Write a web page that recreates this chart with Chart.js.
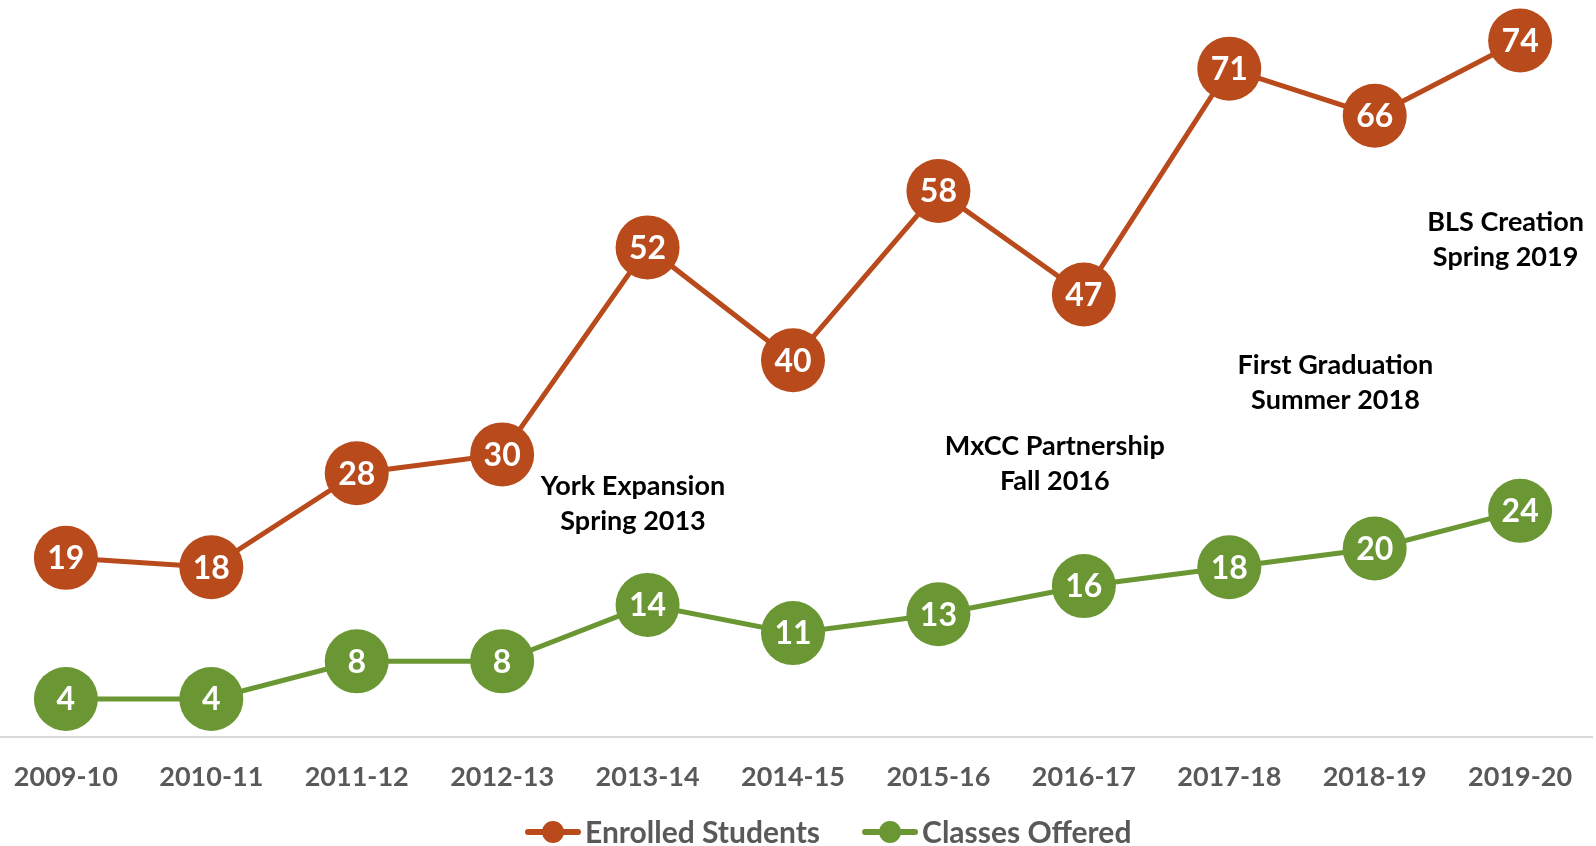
<!DOCTYPE html>
<html>
<head>
<meta charset="utf-8">
<script src="https://cdn.jsdelivr.net/npm/chart.js"></script>
<style>
  html, body { margin: 0; padding: 0; background: #fff; overflow: hidden; }
  #wrap { position: absolute; left: -10px; top: 0; width: 1606px; height: 846px; }
</style>
</head>
<body>
<div id="wrap"><canvas id="enrollChart"></canvas></div>
<script>
// Datos del grafico
var years = ['2009-10', '2010-11', '2011-12', '2012-13', '2013-14', '2014-15', '2015-16', '2016-17', '2017-18', '2018-19', '2019-20'];
var enrolledStudents = [19, 18, 28, 30, 52, 40, 58, 47, 71, 66, 74];
var classesOffered = [4, 4, 8, 8, 14, 11, 13, 16, 18, 20, 24];

// Hitos (texto, posicion en el eje x y valor en el eje y)
var milestoneText = [
  ['York Expansion', 'Spring 2013'],
  ['MxCC Partnership', 'Fall 2016'],
  ['First Graduation', 'Summer 2018'],
  ['BLS Creation', 'Spring 2019']
];
var milestoneX = [3.9, 6.8, 8.73, 9.9];
var milestoneY = [24.8, 29, 37.7, 52.9];

var orange = '#b84a1b';
var green = '#6a9733';
var fontName = 'Lato, "Noto Sans", sans-serif';

// Numeros blancos dentro de cada punto
var pointLabels = {
  id: 'pointLabels',
  afterDatasetsDraw: function(chart) {
    var ctx = chart.ctx;
    ctx.save();
    ctx.font = 'bold 32px ' + fontName;
    ctx.fillStyle = '#ffffff';
    ctx.textAlign = 'center';
    ctx.textBaseline = 'middle';
    chart.data.datasets.forEach(function(ds, i) {
      chart.getDatasetMeta(i).data.forEach(function(pt, j) {
        ctx.fillText(ds.data[j], pt.x, pt.y + 1);
      });
    });
    ctx.restore();
  }
};

// Textos de los hitos
var milestones = {
  id: 'milestones',
  afterDraw: function(chart) {
    var ctx = chart.ctx;
    var xs = chart.scales.x;
    var ys = chart.scales.y;
    ctx.save();
    ctx.font = 'bold 27px ' + fontName;
    ctx.fillStyle = '#000000';
    ctx.textAlign = 'center';
    ctx.textBaseline = 'middle';
    milestoneText.forEach(function(lines, i) {
      var px = xs.getPixelForValue(milestoneX[i]);
      var py = ys.getPixelForValue(milestoneY[i]);
      ctx.fillText(lines[0], px, py - 17);
      ctx.fillText(lines[1], px, py + 18);
    });
    ctx.restore();
  }
};

// Leyenda abajo con linea y circulo
var bottomLegend = {
  id: 'bottomLegend',
  afterDraw: function(chart) {
    var ctx = chart.ctx;
    var x = 535;
    var y = 832;
    ctx.save();
    ctx.font = 'bold 30px ' + fontName;
    ctx.textBaseline = 'middle';
    ctx.textAlign = 'left';
    chart.data.datasets.forEach(function(ds) {
      ctx.strokeStyle = ds.borderColor;
      ctx.lineWidth = 6;
      ctx.lineCap = 'round';
      ctx.beginPath();
      ctx.moveTo(x + 3, y);
      ctx.lineTo(x + 53, y);
      ctx.stroke();
      ctx.fillStyle = ds.borderColor;
      ctx.beginPath();
      ctx.arc(x + 28, y, 11, 0, Math.PI * 2);
      ctx.fill();
      ctx.fillStyle = '#595959';
      ctx.fillText(ds.label, x + 60, y + 1);
      x += 60 + ctx.measureText(ds.label).width + 42;
    });
    ctx.restore();
  }
};

function drawChart() {
  var ctx = document.getElementById('enrollChart').getContext('2d');
  var myChart = new Chart(ctx, {
    type: 'line',
    data: {
      labels: years,
      datasets: [{
        label: 'Enrolled Students',
        data: enrolledStudents,
        borderColor: orange,
        backgroundColor: orange,
        pointBackgroundColor: orange,
        borderWidth: 5,
        pointRadius: 32,
        pointBorderWidth: 0,
        clip: false
      }, {
        label: 'Classes Offered',
        data: classesOffered,
        borderColor: green,
        backgroundColor: green,
        pointBackgroundColor: green,
        borderWidth: 5,
        pointRadius: 32,
        pointBorderWidth: 0,
        clip: false
      }]
    },
    options: {
      responsive: true,
      maintainAspectRatio: false,
      animation: false,
      layout: { autoPadding: false, padding: { top: 0, left: 0, right: 0, bottom: 29 } },
      plugins: {
        legend: { display: false },
        tooltip: { enabled: false }
      },
      scales: {
        x: {
          offset: true,
          grid: { display: false, drawTicks: false },
          border: { color: '#d9d9d9', width: 2 },
          ticks: {
            color: '#595959',
            font: { family: fontName, size: 27, weight: 'bold' },
            padding: 24,
            maxRotation: 0,
            autoSkip: false
          }
        },
        y: { display: false, min: 0, max: 78.3 }
      }
    },
    plugins: [pointLabels, milestones, bottomLegend]
  });
}

document.fonts.load('bold 30px Lato').then(drawChart, drawChart);
</script>
</body>
</html>
